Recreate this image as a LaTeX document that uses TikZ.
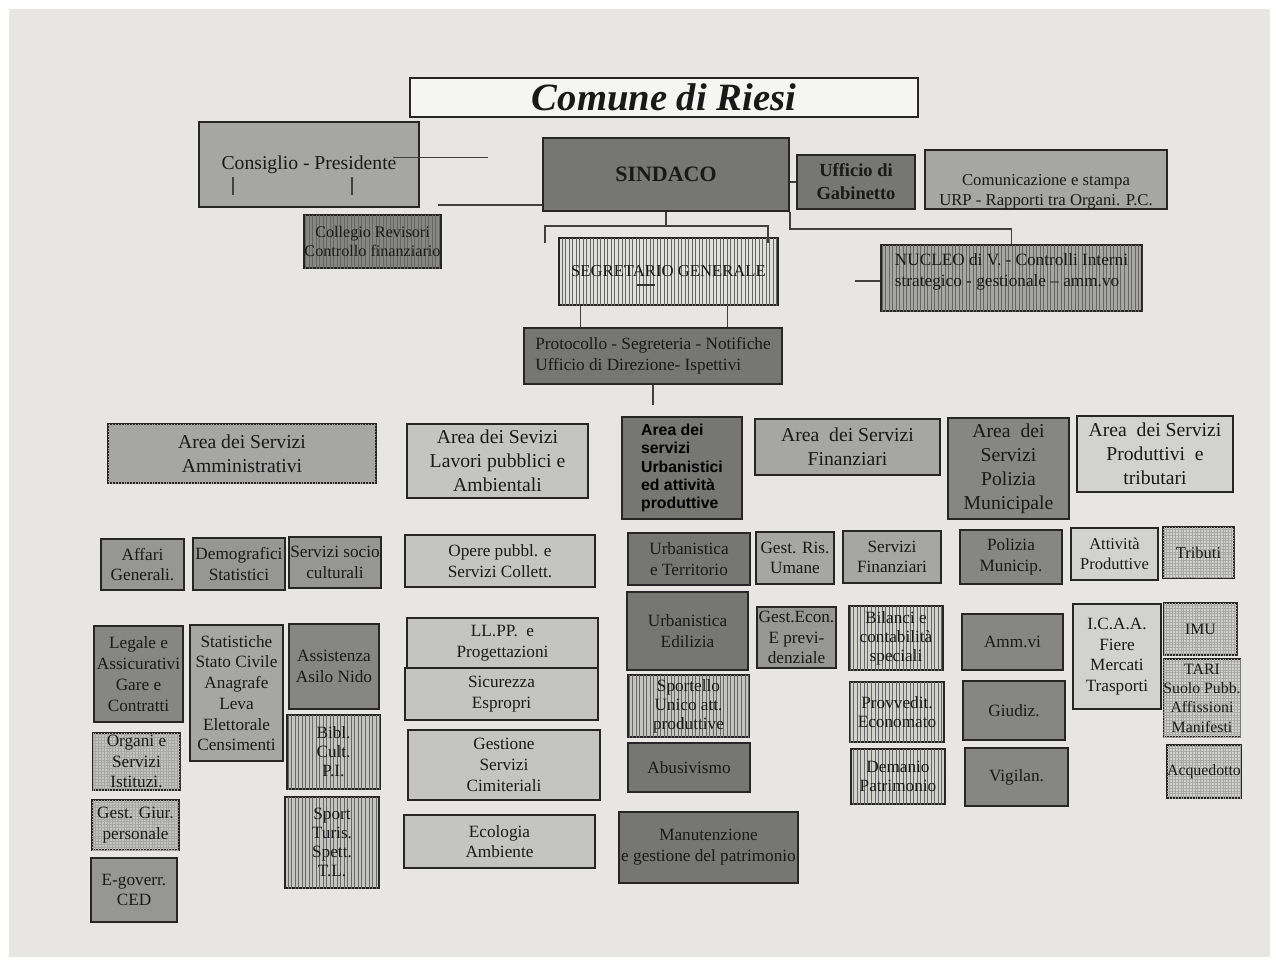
\documentclass[tikz,border=0pt]{standalone}
\usepackage{fontspec}
\setmainfont{Liberation Serif}
\newfontfamily\areasans{Liberation Sans}
\usepackage{xcolor}
\usetikzlibrary{patterns.meta}

\definecolor{paper}{RGB}{231,230,226}
\definecolor{gA}{RGB}{118,118,115}
\definecolor{gB}{RGB}{134,134,131}
\definecolor{gC}{RGB}{150,150,147}
\definecolor{gD}{RGB}{166,166,162}
\definecolor{gE}{RGB}{196,196,192}
\definecolor{gF}{RGB}{210,210,206}
\definecolor{gS}{RGB}{224,224,220}

\begin{document}
\begin{tikzpicture}[
    x=0.02cm,y=-0.02cm,
    corners/.style args={#1/#2/#3/#4}{at={({(#1+#3)/2},{(#2+#4)/2})},minimum width={(#3-#1)*0.02cm},minimum height={(#4-#2)*0.02cm}},
    office/.style={draw=black!85,line width=0.85pt,inner sep=0pt,align=center,text=black!90,font=\fontsize{9.8}{11.8}\selectfont},
    areabox/.style={office,font=\fontsize{11.2}{13.6}\selectfont},
    striped/.style={office,fill=#1,font=\fontsize{9.8}{10.8}\selectfont,postaction={pattern={Lines[angle=90,distance=2pt,line width=0.5pt]},pattern color=black!60}},
    hatched/.style={office,fill=#1,postaction={pattern={Hatch[distance=1.6pt,line width=0.2pt]},pattern color=black!35}},
    link/.style={draw=black!75,line width=0.9pt}
  ]
  \useasboundingbox (0,0) rectangle (1276,965);
  \fill[white] (0,0) rectangle (1276,965);
  \fill[paper] (9,9) rectangle (1270,957);

  % vertice
  \node[office,fill=paper!40!white,corners=410/78/918/117,font=\fontsize{22}{26}\selectfont\bfseries\itshape] (title) {Comune di Riesi};
  \node[office,fill=gD,corners=199/122/419/207,font=\fontsize{11.2}{13.6}\selectfont] (cons) {Consiglio - Presidente};
  \node[office,fill=gA,corners=543/138/789/211,font=\fontsize{12.5}{15}\selectfont\bfseries] (sindaco) {SINDACO};
  \node[office,fill=gA,corners=797/155/915/209,font=\fontsize{10.5}{13}\selectfont\bfseries] (gab) {Ufficio di\\Gabinetto};
  \node[office,fill=gD,corners=925/152/1167/207,font=\fontsize{9.5}{11.3}\selectfont] (comun) {\mbox{}\\[9pt]Comunicazione e stampa\\URP - Rapporti tra Organi. P.C.};
  \node[striped=gB,corners=304/215/441/268,font=\fontsize{9.2}{11.2}\selectfont] (revis) {Collegio Revisori\\Controllo finanziario};
  \node[striped=gS,corners=559/238/778/305,font=\fontsize{9.5}{11.5}\selectfont] (segr) {SEGRETARIO GENERALE};
  \node[striped=gD,corners=881/245/1142/311,align=left,font=\fontsize{9.8}{11.8}\selectfont] (nucleo) {NUCLEO di V. - Controlli Interni\\strategico - gestionale -- amm.vo\\[-3pt]\mbox{}};
  \node[office,fill=gA,corners=524/328/782/384,align=left] (proto) {Protocollo - Segreteria - Notifiche\\Ufficio di Direzione- Ispettivi};

  % aree
  \node[hatched=gD,areabox,corners=108/424/376/483] (amm) {Area dei Servizi\\Amministrativi};
  \node[areabox,fill=gE,corners=407/424/588/498] (llpp) {Area dei Sevizi\\Lavori pubblici e\\Ambientali};
  \node[office,fill=gA,corners=622/417/742/519,align=left,font=\areasans\bfseries\fontsize{9}{10.4}\selectfont,text=black] (urb) {Area dei\\servizi\\Urbanistici\\ed attività\\produttive};
  \node[areabox,fill=gD,corners=755/419/940/475] (fin) {Area\ \ dei Servizi\\Finanziari};
  \node[areabox,fill=gB,corners=948/418/1069/519] (pol) {Area\ \ dei\\Servizi\\Polizia\\Municipale};
  \node[areabox,fill=gF,corners=1077/416/1233/492] (prod) {Area\ \ dei Servizi\\Produttivi\ \ e\\tributari};

  % uffici
  \node[office,fill=gC,corners=101/539/184/590] (affari) {Affari\\Generali.};
  \node[office,fill=gC,corners=193/538/285/590] (demo) {Demografici\\Statistici};
  \node[office,fill=gC,corners=289/537/381/588] (socio) {Servizi socio\\culturali};
  \node[office,fill=gB,corners=94/626/183/722] (legale) {Legale e\\Assicurativi\\Gare e\\Contratti};
  \node[hatched=gE,corners=93/733/180/790] (organi) {Organi e\\Servizi\\Istituzi.};
  \node[hatched=gE,corners=92/800/179/850] (giur) {Gest. Giur.\\personale};
  \node[office,fill=gC,corners=91/858/177/922] (egov) {E-goverr.\\CED};
  \node[office,fill=gD,corners=190/625/283/761] (stat) {Statistiche\\Stato Civile\\Anagrafe\\Leva\\Elettorale\\Censimenti};
  \node[office,fill=gB,corners=289/624/379/709] (asilo) {Assistenza\\Asilo Nido};
  \node[striped=gE,corners=287/715/380/789] (bibl) {Bibl.\\Cult.\\P.I.};
  \node[striped=gE,corners=285/797/379/888] (sport) {Sport\\Turis.\\Spett.\\T.L.};

  \node[office,fill=gE,corners=405/535/595/587] (opere) {Opere pubbl. e\\Servizi Collett.};
  \node[office,fill=gE,corners=407/618/598/669] (prog) {LL.PP.\ \ e\\Progettazioni};
  \node[office,fill=gE,corners=405/668/598/720] (espr) {Sicurezza\\Espropri};
  \node[office,fill=gE,corners=408/730/600/800] (cimit) {Gestione\\Servizi\\Cimiteriali};
  \node[office,fill=gE,corners=404/815/595/868] (ecol) {Ecologia\\Ambiente};

  \node[office,fill=gA,corners=628/533/750/585] (terr) {Urbanistica\\e Territorio};
  \node[office,fill=gA,corners=627/592/748/670] (edil) {Urbanistica\\Edilizia};
  \node[striped=gE,corners=628/675/749/737] (suap) {Sportello\\Unico att.\\produttive};
  \node[office,fill=gA,corners=628/743/750/792] (abus) {Abusivismo};
  \node[office,fill=gA,corners=619/812/798/883] (manut) {Manutenzione\\e gestione del patrimonio};

  \node[office,fill=gD,corners=756/532/834/584] (risum) {Gest. Ris.\\Umane};
  \node[office,fill=gD,corners=843/531/941/583] (servfin) {Servizi\\Finanziari};
  \node[office,fill=gC,corners=757/607/836/668] (econ) {Gest.Econ.\\E previ-\\denziale};
  \node[striped=gF,corners=849/606/943/670] (bilanci) {Bilanci e\\contabilità\\speciali};
  \node[striped=gF,corners=850/682/944/742] (provv) {Provvedit.\\Economato};
  \node[striped=gF,corners=851/749/945/804] (demanio) {Demanio\\Patrimonio};

  \node[office,fill=gB,corners=960/530/1062/584] (polmun) {Polizia\\Municip.};
  \node[office,fill=gB,corners=962/614/1063/670] (ammvi) {Amm.vi};
  \node[office,fill=gB,corners=963/681/1065/740] (giudiz) {Giudiz.};
  \node[office,fill=gB,corners=965/748/1068/806] (vigil) {Vigilan.};

  \node[office,fill=gF,corners=1071/528/1158/580,font=\fontsize{9.4}{11.4}\selectfont] (attprod) {Attività\\Produttive};
  \node[hatched=gF,corners=1163/527/1234/578,font=\fontsize{9.4}{11.4}\selectfont] (tributi) {Tributi};
  \node[office,fill=gF,corners=1073/604/1161/709] (icaa) {I.C.A.A.\\Fiere\\Mercati\\Trasporti};
  \node[hatched=gF,corners=1164/603/1237/655,font=\fontsize{9}{11}\selectfont] (imu) {IMU};
  \node[hatched=gF,corners=1166/659/1238/737,font=\fontsize{9}{11}\selectfont] (tari) {TARI\\Suolo Pubb.\\Affissioni\\Manifesti};
  \node[hatched=gF,corners=1168/745/1240/798,font=\fontsize{9}{11}\selectfont] (acqua) {Acquedotto};

  % collegamenti
  \coordinate (consEnd) at (488,157.5);
  \coordinate (sinStart) at (438,205);
  \coordinate (brkL) at (545,243);
  \coordinate (brkR) at (768,243);
  \coordinate (nucStart) at (855,281);
  \coordinate (protoEnd) at (654,405);
  \draw[link] (233,177) -- (233,195) (352,177) -- (352,195);
  \draw[link] ([shift={(84,-7)}]cons.center) -- (consEnd);
  \draw[link] (sinStart) -- (sinStart -| sindaco.west);
  \draw[link] (sindaco.east |- gab.west) -- (gab.west);
  \draw[link] (sindaco.south) -- ++(0,15);
  \draw[link] (brkL) -- ++(0,-17) -| (brkR);
  \draw[link] (sindaco.south east) -- ++(0,17) -| (nucleo.north);
  \draw[link] (nucStart) -- (nucStart -| nucleo.west);
  \foreach \dx in {-88,59}
    \draw[link] ([xshift=\dx*0.02cm]segr.south) -- ([xshift=\dx*0.02cm]segr.south |- proto.north);
  \draw[link] (proto.south) -- (proto.south |- protoEnd);
  \draw[black!80,line width=0.6pt] (637,285) -- (655,285);
\end{tikzpicture}
\end{document}
